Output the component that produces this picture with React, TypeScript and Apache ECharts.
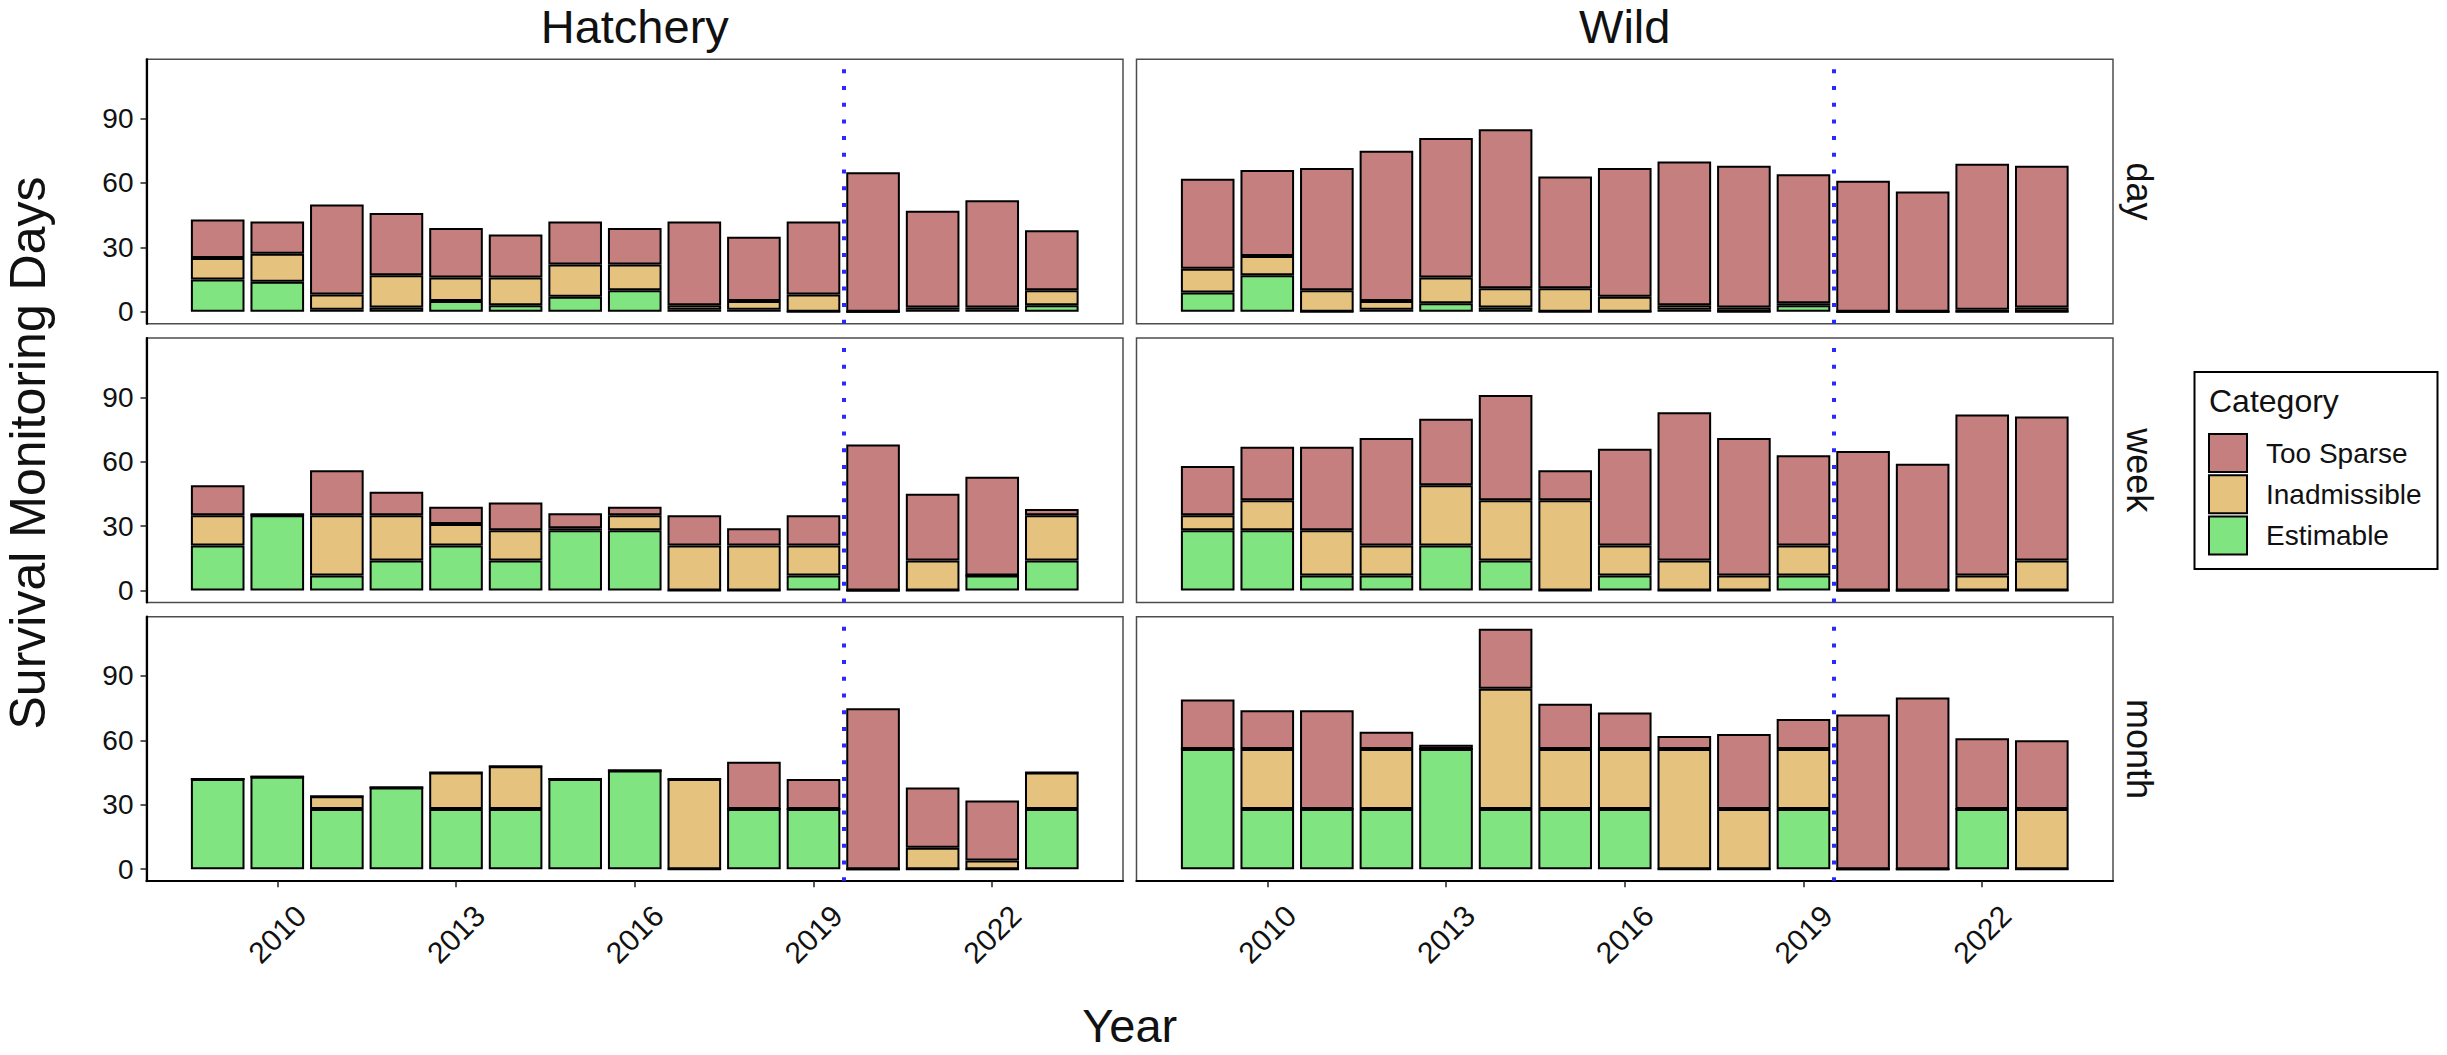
import React, { useEffect, useRef } from "react";
import * as echarts from "echarts";

// ---- data -------------------------------------------------------------
const years = [2009, 2010, 2011, 2012, 2013, 2014, 2015, 2016, 2017, 2018, 2019, 2020, 2021, 2022, 2023];
const groups = ["Hatchery", "Wild"];
const intervals = ["day", "week", "month"];
const legendOrder = ["Too Sparse", "Inadmissible", "Estimable"];
const stackOrder = ["Estimable", "Inadmissible", "Too Sparse"];
const yearTicks = [2010, 2013, 2016, 2019, 2022];
const dayTicks = [0, 30, 60, 90];
const cutoffYear = 2019.5;

// Hatchery
const hatcheryDayEstimable = [15, 14, 1, 2, 5, 3, 7, 10, 1, 1, 0, 0, 1, 1, 3];
const hatcheryDayInadmissible = [10, 13, 7, 15, 11, 13, 15, 12, 2, 4, 8, 0, 1, 1, 7];
const hatcheryDayTooSparse = [18, 15, 42, 29, 23, 20, 20, 17, 39, 30, 34, 65, 45, 50, 28];

const hatcheryWeekEstimable = [21, 35, 7, 14, 21, 14, 28, 28, 0, 0, 7, 0, 0, 7, 14];
const hatcheryWeekInadmissible = [14, 0, 28, 21, 10, 14, 1, 7, 21, 21, 14, 0, 14, 0, 21];
const hatcheryWeekTooSparse = [14, 1, 21, 11, 8, 13, 7, 4, 14, 8, 14, 68, 31, 46, 3];

const hatcheryMonthEstimable = [42, 43, 28, 38, 28, 28, 42, 46, 0, 28, 28, 0, 0, 0, 28];
const hatcheryMonthInadmissible = [0, 0, 6, 0, 17, 20, 0, 0, 42, 0, 0, 0, 10, 4, 17];
const hatcheryMonthTooSparse = [0, 0, 0, 0, 0, 0, 0, 0, 0, 22, 14, 75, 28, 28, 0];

// Wild
const wildDayEstimable = [9, 17, 0, 1, 4, 2, 0, 0, 1, 0, 3, 0, 0, 0, 0];
const wildDayInadmissible = [11, 9, 10, 4, 12, 9, 11, 7, 2, 2, 1, 0, 0, 1, 2];
const wildDayTooSparse = [42, 40, 57, 70, 65, 74, 52, 60, 67, 66, 60, 61, 56, 68, 66];

const wildWeekEstimable = [28, 28, 7, 7, 21, 14, 0, 7, 0, 0, 7, 0, 0, 0, 0];
const wildWeekInadmissible = [7, 14, 21, 14, 28, 28, 42, 14, 14, 7, 14, 0, 0, 7, 14];
const wildWeekTooSparse = [23, 25, 39, 50, 31, 49, 14, 45, 69, 64, 42, 65, 59, 75, 67];

const wildMonthEstimable = [56, 28, 28, 28, 56, 28, 28, 28, 0, 0, 28, 0, 0, 28, 0];
const wildMonthInadmissible = [0, 28, 0, 28, 0, 56, 28, 28, 56, 28, 28, 0, 0, 0, 28];
const wildMonthTooSparse = [23, 18, 46, 8, 2, 28, 21, 17, 6, 35, 14, 72, 80, 33, 32];

// facet -> [Estimable, Inadmissible, Too Sparse]
const facetValues: Record<string, Record<string, number[][]>> = {
  Hatchery: {
    day: [hatcheryDayEstimable, hatcheryDayInadmissible, hatcheryDayTooSparse],
    week: [hatcheryWeekEstimable, hatcheryWeekInadmissible, hatcheryWeekTooSparse],
    month: [hatcheryMonthEstimable, hatcheryMonthInadmissible, hatcheryMonthTooSparse],
  },
  Wild: {
    day: [wildDayEstimable, wildDayInadmissible, wildDayTooSparse],
    week: [wildWeekEstimable, wildWeekInadmissible, wildWeekTooSparse],
    month: [wildMonthEstimable, wildMonthInadmissible, wildMonthTooSparse],
  },
};

// ---- styling ----------------------------------------------------------
const FONT = "'Liberation Sans', Arial, Helvetica, sans-serif";
const INK = "#111111";
const FILL: Record<string, string> = {
  "Too Sparse": "#C57F7E",
  Inadmissible: "#E5C37F",
  Estimable: "#80E580",
};

const PANEL_LEFT = [146.5, 1136.5];
const PANEL_TOP = [59.3, 338, 616.7];
const PANEL_W = 976.5;
const PANEL_H = 264.5;
const YEAR_LABEL_DROP = 53; // distance of year-label centres below the bottom axis

// continuous year scale with 0.9-wide bars and 5% padding on each side
const xLo = years[0] - 0.45;
const xHi = years[years.length - 1] + 0.45;
const X_MIN = xLo - 0.05 * (xHi - xLo);
const X_MAX = xHi + 0.05 * (xHi - xLo);

const textStyle = (text: string, size: number) => ({
  text,
  fontSize: size,
  fontFamily: FONT,
  fill: INK,
  align: "center",
  verticalAlign: "middle",
  textAlign: "center",
  textVerticalAlign: "middle",
});

function buildOption() {
  let maxTotal = 0;
  groups.forEach((g) =>
    intervals.forEach((iv) => {
      const [e, i, s] = facetValues[g][iv];
      years.forEach((_, k) => {
        maxTotal = Math.max(maxTotal, e[k] + i[k] + s[k]);
      });
    })
  );
  const Y_MIN = -0.05 * maxTotal;
  const Y_MAX = maxTotal * 1.05;

  const grid: any[] = [];
  const xAxis: any[] = [];
  const yAxis: any[] = [];
  const series: any[] = [];

  intervals.forEach((iv, r) => {
    groups.forEach((g, c) => {
      const idx = grid.length;
      const bottomRow = r === intervals.length - 1;
      const leftCol = c === 0;
      grid.push({
        left: PANEL_LEFT[c],
        top: PANEL_TOP[r],
        width: PANEL_W,
        height: PANEL_H,
        show: true,
        borderColor: "#4d4d4d",
        borderWidth: 1.5,
        backgroundColor: "transparent",
      });
      xAxis.push({
        type: "value",
        gridIndex: idx,
        min: X_MIN,
        max: X_MAX,
        splitLine: { show: false },
        axisLine: { show: bottomRow, onZero: false, lineStyle: { color: "#000", width: 2.2 } },
        axisTick: {
          show: bottomRow,
          customValues: yearTicks,
          length: 6,
          lineStyle: { color: "#222", width: 1.5 },
        },
        axisLabel: { show: false },
      });
      yAxis.push({
        type: "value",
        gridIndex: idx,
        min: Y_MIN,
        max: Y_MAX,
        splitLine: { show: false },
        axisLine: { show: leftCol, onZero: false, lineStyle: { color: "#000", width: 2.2 } },
        axisTick: {
          show: leftCol,
          customValues: dayTicks,
          length: 6,
          lineStyle: { color: "#222", width: 1.5 },
        },
        axisLabel: {
          show: leftCol,
          customValues: dayTicks,
          margin: 13,
          fontSize: 28,
          color: INK,
          fontFamily: FONT,
          formatter: (v: number) => String(v),
        },
      });

      const values = facetValues[g][iv];
      stackOrder.forEach((cat, k) => {
        series.push({
          type: "bar",
          name: cat,
          xAxisIndex: idx,
          yAxisIndex: idx,
          stack: "facet" + idx,
          barWidth: "90%",
          // [days, year]: the day count comes first so it is the stacked dimension
          data: years.map((y, j) => [values[k][j], y]),
          encode: { x: 1, y: 0 },
          itemStyle: { color: FILL[cat], borderColor: "#000", borderWidth: 2 },
          emphasis: { disabled: true },
          silent: true,
          markLine:
            k === stackOrder.length - 1
              ? {
                  silent: true,
                  symbol: ["none", "none"],
                  label: { show: false },
                  lineStyle: { color: "#1f1fff", width: 4, type: [4, 12.7], opacity: 0.95 },
                  data: [{ xAxis: cutoffYear }],
                }
              : undefined,
        });
      });
    });
  });

  return {
    animation: false,
    backgroundColor: "#ffffff",
    textStyle: { fontFamily: FONT },
    grid,
    xAxis,
    yAxis,
    series,
  };
}

function buildGraphic(chart: echarts.ECharts) {
  const graphic: any[] = [];
  // column strips
  groups.forEach((g, c) => {
    graphic.push({
      type: "text",
      x: PANEL_LEFT[c] + PANEL_W / 2,
      y: 26,
      style: textStyle(g, 47),
    });
  });
  // row strips
  intervals.forEach((iv, r) => {
    graphic.push({
      type: "text",
      x: 2139,
      y: PANEL_TOP[r] + PANEL_H / 2,
      rotation: -Math.PI / 2,
      style: textStyle(iv, 36),
    });
  });

  // rotated year labels under the bottom row, placed through each panel's x scale
  const bottomRow = intervals.length - 1;
  const axisY = PANEL_TOP[bottomRow] + PANEL_H;
  groups.forEach((_, c) => {
    const axisIndex = bottomRow * groups.length + c;
    yearTicks.forEach((yr) => {
      const px = chart.convertToPixel({ xAxisIndex: axisIndex }, yr) as number;
      graphic.push({
        type: "text",
        x: px,
        y: axisY + YEAR_LABEL_DROP,
        rotation: Math.PI / 4,
        style: textStyle(String(yr), 30),
      });
    });
  });

  // axis titles
  graphic.push({
    type: "text",
    x: 28,
    y: 453,
    rotation: Math.PI / 2,
    style: textStyle("Survival Monitoring Days", 50),
  });
  graphic.push({
    type: "text",
    x: (PANEL_LEFT[0] + PANEL_LEFT[1] + PANEL_W) / 2,
    y: 1025,
    style: { ...textStyle("Year", 47), lineHeight: 40 },
  });

  // legend
  graphic.push({
    type: "rect",
    shape: { x: 2194.5, y: 372, width: 243, height: 197 },
    style: { fill: "#fff", stroke: "#000", lineWidth: 2 },
  });
  graphic.push({
    type: "text",
    x: 2209,
    y: 400.5,
    style: { ...textStyle("Category", 32), align: "left", textAlign: "left" },
  });
  legendOrder.forEach((cat, k) => {
    const top = 434 + k * 41.3;
    graphic.push({
      type: "rect",
      shape: { x: 2209, y: top, width: 38, height: 38 },
      style: { fill: FILL[cat], stroke: "#000", lineWidth: 2 },
    });
    graphic.push({
      type: "text",
      x: 2266,
      y: top + 19,
      style: { ...textStyle(cat, 28), align: "left", textAlign: "left" },
    });
  });
  return graphic;
}

export default function App() {
  const ref = useRef<HTMLDivElement>(null);
  useEffect(() => {
    if (!ref.current) return;
    const chart = echarts.init(ref.current, null, { renderer: "svg" });
    chart.setOption(buildOption() as any);
    chart.setOption({ graphic: buildGraphic(chart) } as any);
    return () => chart.dispose();
  }, []);
  return (
    <div
      ref={ref}
      style={{ position: "absolute", left: 0, top: 0, width: 2447, height: 1055, background: "#fff" }}
    />
  );
}
